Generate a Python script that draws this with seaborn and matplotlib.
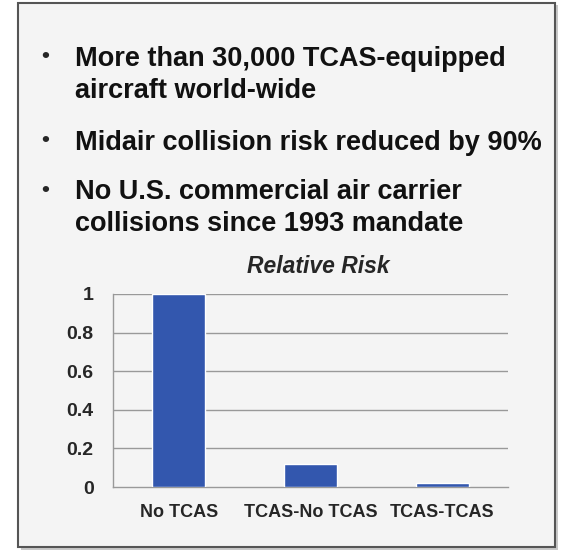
import pandas as pd
import matplotlib
matplotlib.use('Agg')
import matplotlib.pyplot as plt
import seaborn as sns
from matplotlib.patches import Rectangle

categories = ['No TCAS', 'TCAS-No TCAS', 'TCAS-TCAS']
risk = [1.0, 0.12, 0.02]
y_ticks = [0, 0.2, 0.4, 0.6, 0.8, 1]
y_labels = ['0', '0.2', '0.4', '0.6', '0.8', '1']
bullets = [
    'More than 30,000 TCAS-equipped\naircraft world-wide',
    'Midair collision risk reduced by 90%',
    'No U.S. commercial air carrier\ncollisions since 1993 mandate',
]

sns.set_style('white')
plt.rcParams['font.family'] = ['Liberation Sans', 'DejaVu Sans']

df = pd.DataFrame({'case': categories, 'risk': risk})

fig = plt.figure(figsize=(5.67, 5.50), dpi=100)
fig.patch.set_facecolor('white')

# slide frame with a faint shadow
fig.patches.append(Rectangle((21 / 567, 0.0), 537 / 567, 545 / 550, transform=fig.transFigure,
                             facecolor='#c8c8c8', edgecolor='none', zorder=-3))
fig.patches.append(Rectangle((18 / 567, 3 / 550), 537 / 567, 544 / 550, transform=fig.transFigure,
                             facecolor='#f4f4f4', edgecolor='#555555', lw=1.5, zorder=-2))

# bullet text
bullet_y = [57, 141, 190]
for txt, yy in zip(bullets, bullet_y):
    fig.text(41 / 567, 1 - yy / 550, '\u2022', fontsize=16, fontweight='bold', va='center', ha='left')
    fig.text(75 / 567, 1 - (yy - 11) / 550, txt, fontsize=19.5, fontweight='bold', va='top',
             ha='left', linespacing=1.32, color='#111111')

ax = fig.add_axes([113 / 567, 63 / 550, 395 / 567, 193 / 550])
ax.set_facecolor('none')
sns.barplot(data=df, x='case', y='risk', color='#3357AE', saturation=1, width=0.4, ax=ax, zorder=3)

ax.set_ylim(0, 1)
ax.set_xlim(-0.5, 2.5)
ax.set_yticks(y_ticks)
ax.set_yticklabels(y_labels, fontsize=14, fontweight='bold')
ax.set_xticks(range(len(categories)))
ax.set_xticklabels(categories, fontsize=13, fontweight='bold')
ax.tick_params(axis='x', length=0, pad=12)
ax.set_xticks([-0.5, 0.5, 1.5, 2.5], minor=True)
ax.tick_params(axis='x', which='minor', length=5, color='#999999', width=1)
ax.tick_params(axis='y', length=6, color='#999999', width=1, pad=8)
ax.set_xlabel('')
ax.set_ylabel('')
for yv in y_ticks[1:]:
    ax.axhline(yv, color='#999999', lw=1, zorder=1)
for s in ['top', 'right']:
    ax.spines[s].set_visible(False)
for s in ['left', 'bottom']:
    ax.spines[s].set_color('#999999')
    ax.spines[s].set_linewidth(1)
ax.set_title('Relative Risk', fontsize=16.5, fontweight='bold', fontstyle='italic', pad=15, x=0.52)

plt.savefig('out.png', dpi=100)
